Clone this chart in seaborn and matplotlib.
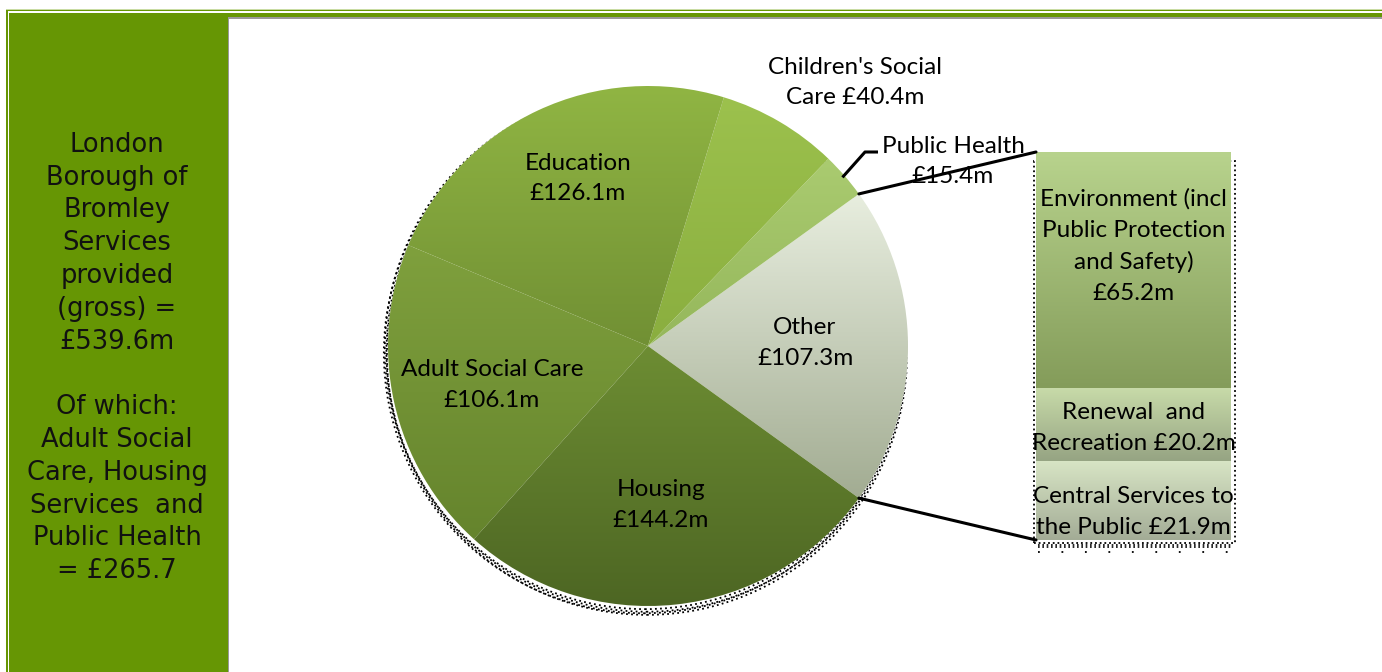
import numpy as np
import matplotlib
matplotlib.use("Agg")
import matplotlib.pyplot as plt
import seaborn as sns
from matplotlib.patches import Rectangle, Circle
from matplotlib.patches import ConnectionPatch
from matplotlib.colors import LinearSegmentedColormap

sns.set_theme(style="white")
plt.rcParams["font.family"] = ["Lato", "DejaVu Sans"]
plt.rcParams["text.color"] = "black"

# ---- data (£m) ----
pie_labels = ["Other", "Public Health", "Children's Social\nCare", "Education",
              "Adult Social Care", "Housing"]
pie_values = [107.3, 15.4, 40.4, 126.1, 106.1, 144.2]

bar_labels = ["Central Services to\nthe Public", "Renewal  and\nRecreation",
              "Environment (incl\nPublic Protection\nand Safety)"]
bar_values = [21.9, 20.2, 65.2]

summary_lines = ["London", "Borough of", "Bromley", "Services", "provided",
                 "(gross) =", "£539.6m", "", "Of which:", "Adult Social",
                 "Care, Housing", "Services  and", "Public Health", "= £265.7"]

# ---- styling ----
pie_grad = [("#e8eedf", "#a2ac92"),   # Other
            ("#aacb70", "#95b75b"),   # Public Health
            ("#9cc14d", "#8aae3f"),   # Children's
            ("#90b543", "#719034"),   # Education
            ("#7fa03d", "#65842d"),   # Adult
            ("#6d8d33", "#4d6623")]   # Housing
bar_grad = [("#d8e5c5", "#a3ac96"),   # Central
            ("#c8dba9", "#96a483"),   # Renewal
            ("#b8d38d", "#849c5a")]   # Environment
bar_label_frac = [0.35, 0.45, 0.60]

W, H = 1382, 672
fig = plt.figure(figsize=(W / 100, H / 100), dpi=100)
fig.patch.set_facecolor("white")

# ---- background frame and side panel (pixel coordinates) ----
bg = fig.add_axes([0, 0, 1, 1])
bg.set_xlim(0, W)
bg.set_ylim(H, 0)
bg.axis("off")
green = "#669604"
bg.add_patch(Rectangle((6, 8.5), W, 1.2, color="#c9dca3", lw=0))
bg.add_patch(Rectangle((6, 9.5), W, 1.8, color=green, lw=0))
bg.add_patch(Rectangle((6, 9.5), 2.2, H, color=green, lw=0))
bg.add_patch(Rectangle((9.5, 12.5), W, 4.8, color=green, lw=0))
bg.add_patch(Rectangle((9.5, 12.5), 218.5, H, color=green, lw=0))
bg.add_patch(Rectangle((228, 17.2), W, 1.5, color="#9a9a9a", lw=0))
bg.add_patch(Rectangle((228, 17.2), 1.5, H, color="#9a9a9a", lw=0))

bg.text(117, 358, "\n".join(summary_lines), ha="center", va="center",
        fontsize=18.5, linespacing=1.34, color="#111111",
        family=["DejaVu Sans"])

# ---- pie ----
R_PX = 260
cx, cy = 648, 346
pax = fig.add_axes([(cx - R_PX) / W, (H - cy - R_PX) / H, 2 * R_PX / W, 2 * R_PX / H])
total = sum(pie_values)
start = -pie_values[0] / total * 360 / 2
wedges, _ = pax.pie(pie_values, startangle=start, counterclock=True, radius=1,
                    colors=[g[0] for g in pie_grad],
                    wedgeprops=dict(linewidth=0))
pax.set_aspect("equal")
pax.axis("off")

# dotted drop shadow
for dx, dy in [(-0.012, -0.012), (-0.006, -0.022), (-0.016, -0.028), (-0.004, -0.034)]:
    pax.add_patch(Circle((dx, dy), 1.0, fill=False, ls=(0, (1, 1.8)), lw=1.3,
                         ec="black", zorder=0.5, clip_on=False))

for w, (top, bot) in zip(wedges, pie_grad):
    w.set_zorder(1)
    w.set_facecolor("white")
    ext = w.get_path().get_extents()
    cmap = LinearSegmentedColormap.from_list("g", [bot, top])
    im = pax.imshow(np.linspace(0, 1, 256).reshape(-1, 1), cmap=cmap,
                    origin="lower", aspect="auto",
                    extent=[ext.x0, ext.x1, ext.y0, ext.y1], zorder=1.2,
                    interpolation="bicubic")
    im.set_clip_path(w)
pax.set_xlim(-1, 1)
pax.set_ylim(-1, 1)


def px2pie(px, py):
    return (px - cx) / R_PX, (cy - py) / R_PX


label_px = [(805, 343), (953, 161.5), (855, 82.5), (578, 178.5), (492, 385), (661, 505)]
fs = 17.5
ls = 1.58
for lab, val, (lx, ly) in zip(pie_labels, pie_values, label_px):
    x, y = px2pie(lx, ly)
    sep = " " if lab.startswith("Children") else "\n"
    pax.text(x, y, f"{lab}{sep}£{val:.1f}m", ha="center", va="center",
             fontsize=fs, linespacing=ls, zorder=5, clip_on=False, color="black")

# Public Health leader line
ph_mid = np.deg2rad(start + (pie_values[0] + pie_values[1] / 2) / total * 360)
p0 = (np.cos(ph_mid) * 0.99, np.sin(ph_mid) * 0.99)
p1 = px2pie(865, 152)
p2 = px2pie(878, 152)
pax.plot([p0[0], p1[0], p2[0]], [p0[1], p1[1], p2[1]], color="black", lw=2.2,
         zorder=6, clip_on=False, solid_capstyle="butt")

# ---- stacked bar for "Other" ----
bx0, bx1, by0, by1 = 1036, 1231, 152, 540
bax = fig.add_axes([bx0 / W, (H - by1) / H, (bx1 - bx0) / W, (by1 - by0) / H])
bottoms = np.concatenate([[0], np.cumsum(bar_values)[:-1]])
bars = bax.bar([0] * len(bar_values), bar_values, bottom=bottoms, width=1.0,
               color="white", linewidth=0, zorder=1)
bax.axis("off")
for b, (top, bot) in zip(bars, bar_grad):
    x0, y0 = b.get_x(), b.get_y()
    cmap = LinearSegmentedColormap.from_list("g", [bot, top])
    im = bax.imshow(np.linspace(0, 1, 256).reshape(-1, 1), cmap=cmap,
                    origin="lower", aspect="auto",
                    extent=[x0, x0 + b.get_width(), y0, y0 + b.get_height()],
                    zorder=1.2, interpolation="bicubic")
    im.set_clip_path(b)
bax.set_xlim(-0.5, 0.5)
bax.set_ylim(0, sum(bar_values))

# dotted shadow around the bar
bax.add_patch(Rectangle((-0.512, -0.9), 1.03, sum(bar_values) * 0.985, fill=False,
                        ls=(0, (1, 1.6)), lw=1.3, ec="black", zorder=0.5, clip_on=False))
for yy in (-1.3, -1.8):
    bax.plot([-0.49, 0.5], [yy, yy], ls=(0, (1, 1.6)), lw=1.2, color="black",
             clip_on=False, zorder=0.5)
bax.plot([-0.49, 0.5], [-3.4, -3.4], ls=(0, (1, 12)), lw=1.3, color="black",
         clip_on=False, zorder=0.5)

for b, lab, val, f in zip(bars, bar_labels, bar_values, bar_label_frac):
    txt = f"{lab}\n£{val:.1f}m" if "Safety" in lab else f"{lab} £{val:.1f}m"
    bax.text(0, b.get_y() + b.get_height() * f, txt, ha="center", va="center",
             fontsize=fs, linespacing=ls, zorder=5, clip_on=False, color="black")

# ---- connector lines from the "Other" slice to the bar ----
a_top = np.deg2rad(start + pie_values[0] / total * 360)
a_bot = np.deg2rad(start)
for ang, yb in [(a_top, sum(bar_values)), (a_bot, 0)]:
    con = ConnectionPatch(xyA=(np.cos(ang), np.sin(ang)), coordsA=pax.transData,
                          xyB=(-0.5, yb), coordsB=bax.transData,
                          color="black", lw=2.2, zorder=6)
    fig.add_artist(con)

fig.savefig("out.png", dpi=100, facecolor="white")
